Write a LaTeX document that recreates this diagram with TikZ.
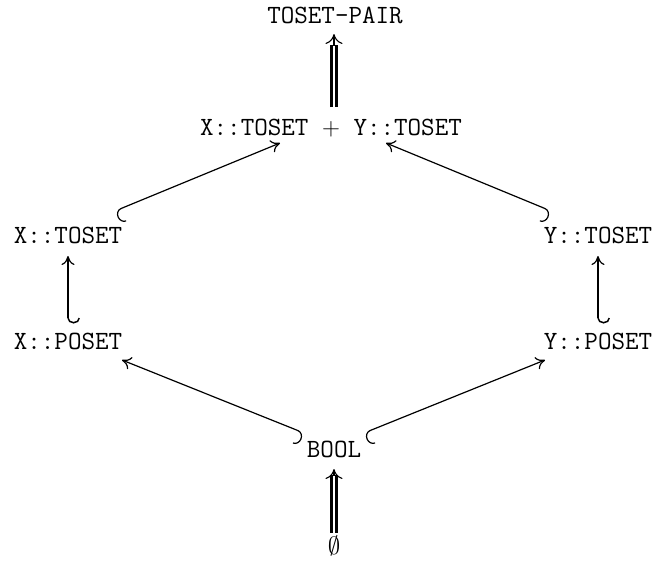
\documentclass[tikz,border=0pt]{standalone}
\usetikzlibrary{arrows.meta}
\begin{document}
\begin{tikzpicture}[x=1pt,y=-1pt,
  lbl/.style={inner sep=0pt, font=\fontsize{26.3}{30}\selectfont\ttfamily, text height=16pt, text depth=0pt, anchor=center},
  hookarr/.style={line width=1.2pt, {Hooks[#1,length=6.5pt,width=28pt]}-{To[length=9pt,width=13pt]}},
  vhook/.style={line width=2pt, {Hooks[#1,length=5.5pt,width=24pt,line width=1.5pt]}-{To[length=9pt,width=13pt,line width=1.2pt]}},
  dbl/.style={double, double distance=2pt, line width=3.3pt},
  dtip/.style={line width=1.1pt, -{To[length=10pt,width=17pt]}}]
\useasboundingbox (0,0) rectangle (656,563);
\node[lbl] (tp) at (335,15.5) {TOSET-PAIR};
\node[lbl] (sum) at (331,127) {X::TOSET\ {\rmfamily$+$}\ Y::TOSET};
\node[lbl] (xt) at (68,235) {X::TOSET};
\node[lbl] (yt) at (598,235) {Y::TOSET};
\node[lbl] (xp) at (68,341) {X::POSET};
\node[lbl] (yp) at (598,341) {Y::POSET};
\node[lbl] (bool) at (334,449.5) {BOOL};
\node[inner sep=0pt, anchor=base, font=\fontsize{25}{28}\selectfont] (em) at (334,554) {$\emptyset$};
% double arrows
\draw[dbl] ([shift={(3,-20)}]sum.center) -- ([shift={(-1,29)}]tp.center);
\draw[dtip] ([shift={(-1,30)}]tp.center) -- ([shift={(-1,18.5)}]tp.center);
\draw[dbl] ([shift={(0,-21)}]em.base) -- ([shift={(0,25.5)}]bool.center);
\draw[dtip] ([shift={(0,26.5)}]bool.center) -- ([shift={(0,19.5)}]bool.center);
% diagonal hooks
\draw[hookarr=left] ([shift={(47,-24)}]xt.center) -- ([shift={(-51,16)}]sum.center);
\draw[hookarr=right] ([shift={(-47,-24)}]yt.center) -- ([shift={(55,16)}]sum.center);
\draw[hookarr=right] ([shift={(-30,-16.5)}]bool.center) -- ([shift={(54,19)}]xp.center);
\draw[hookarr=left] ([shift={(30,-16.5)}]bool.center) -- ([shift={(-53,19)}]yp.center);
% vertical hooks
\draw[vhook=left] ([shift={(0,-17.5)}]xp.center) -- ([shift={(0,21)}]xt.center);
\draw[vhook=left] ([shift={(0,-17.5)}]yp.center) -- ([shift={(0,21)}]yt.center);
\end{tikzpicture}
\end{document}
